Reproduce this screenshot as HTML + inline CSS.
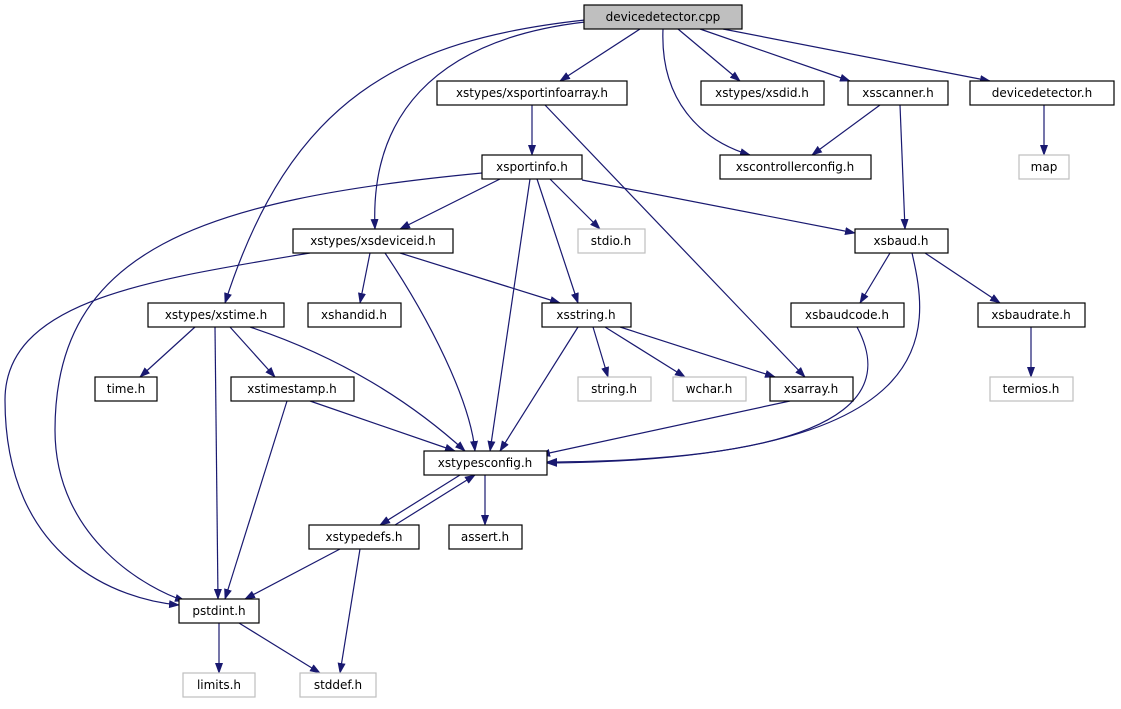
<!DOCTYPE html>
<html><head><meta charset="utf-8"><style>
html,body{margin:0;padding:0;background:#fff;}
svg{display:block;}
text{font-family:"DejaVu Sans","Liberation Sans",sans-serif;font-size:12px;fill:#000;}
.e{fill:none;stroke:#191970;stroke-width:1.2;marker-end:url(#a);}
.n{fill:#fff;stroke:#000;stroke-width:1.2;}
.g{fill:#fff;stroke:#bfbfbf;stroke-width:1.2;}
</style></head><body>
<svg width="1121" height="709" viewBox="0 0 1121 709" xmlns="http://www.w3.org/2000/svg">
<defs><marker id="a" markerWidth="11" markerHeight="8" refX="10" refY="4" orient="auto" markerUnits="userSpaceOnUse"><polygon points="0,0 11,4 0,8" fill="#191970"/></marker></defs>
<g>
<path class="e" d="M640,29 L560,81"/>
<path class="e" d="M678,29 L740,81"/>
<path class="e" d="M700,29 L850,81"/>
<path class="e" d="M723,29 L990,81"/>
<path class="e" d="M663,29 C660,100 700,140 750,155"/>
<path class="e" d="M585,22 C430,40 370,120 375,229"/>
<path class="e" d="M585,20 C400,40 290,100 225,303"/>
<path class="e" d="M532,105 L532,155"/>
<path class="e" d="M545,105 L805,377"/>
<path class="e" d="M880,105 L812,155"/>
<path class="e" d="M900,105 L905,229"/>
<path class="e" d="M1044,105 L1044,155"/>
<path class="e" d="M500,179 L400,229"/>
<path class="e" d="M550,179 L600,229"/>
<path class="e" d="M537,179 L578,303"/>
<path class="e" d="M530,179 L490,451"/>
<path class="e" d="M582,180 L855,233"/>
<path class="e" d="M482,173 C200,200 55,250 55,430 C55,540 150,590 185,601"/>
<path class="e" d="M370,253 L360,303"/>
<path class="e" d="M400,253 L560,303"/>
<path class="e" d="M385,253 C430,320 470,400 475,451"/>
<path class="e" d="M310,253 C150,280 5,300 5,400 C5,560 120,600 179,605"/>
<path class="e" d="M890,253 L860,303"/>
<path class="e" d="M925,253 L1000,303"/>
<path class="e" d="M912,253 C930,330 950,460 547,463"/>
<path class="e" d="M195,327 L140,377"/>
<path class="e" d="M230,327 L275,377"/>
<path class="e" d="M215,327 L218,599"/>
<path class="e" d="M250,327 C350,360 420,410 465,451"/>
<path class="e" d="M593,327 L608,377"/>
<path class="e" d="M605,327 L685,377"/>
<path class="e" d="M620,327 L775,377"/>
<path class="e" d="M578,327 L500,451"/>
<path class="e" d="M857,327 C880,370 900,460 547,462"/>
<path class="e" d="M790,401 L540,455"/>
<path class="e" d="M310,401 L455,451"/>
<path class="e" d="M287,401 L225,599"/>
<path class="e" d="M485,475 L485,525"/>
<path class="e" d="M460,475 L380,525"/>
<path class="e" d="M395,525 L475,475"/>
<path class="e" d="M340,549 L245,599"/>
<path class="e" d="M360,549 L340,673"/>
<path class="e" d="M219,623 L219,673"/>
<path class="e" d="M239,623 L320,673"/>
<path class="e" d="M1031,327 L1031,377"/>
</g>
<g>
<rect x="584" y="5" width="158" height="24" fill="#bfbfbf" stroke="#000" stroke-width="1.2"/><text x="663" y="21" text-anchor="middle">devicedetector.cpp</text>
<rect class="n" x="437" y="81" width="190" height="24"/><text x="532" y="97" text-anchor="middle">xstypes/xsportinfoarray.h</text>
<rect class="n" x="701" y="81" width="123" height="24"/><text x="762" y="97" text-anchor="middle">xstypes/xsdid.h</text>
<rect class="n" x="848" y="81" width="100" height="24"/><text x="898" y="97" text-anchor="middle">xsscanner.h</text>
<rect class="n" x="970" y="81" width="144" height="24"/><text x="1042" y="97" text-anchor="middle">devicedetector.h</text>
<rect class="n" x="482" y="155" width="100" height="24"/><text x="532" y="171" text-anchor="middle">xsportinfo.h</text>
<rect class="n" x="720" y="155" width="151" height="24"/><text x="795" y="171" text-anchor="middle">xscontrollerconfig.h</text>
<rect class="g" x="1019" y="155" width="50" height="24"/><text x="1044" y="171" text-anchor="middle">map</text>
<rect class="n" x="293" y="229" width="160" height="24"/><text x="373" y="245" text-anchor="middle">xstypes/xsdeviceid.h</text>
<rect class="g" x="578" y="229" width="67" height="24"/><text x="611" y="245" text-anchor="middle">stdio.h</text>
<rect class="n" x="855" y="229" width="93" height="24"/><text x="901" y="245" text-anchor="middle">xsbaud.h</text>
<rect class="n" x="148" y="303" width="136" height="24"/><text x="216" y="319" text-anchor="middle">xstypes/xstime.h</text>
<rect class="n" x="308" y="303" width="93" height="24"/><text x="354" y="319" text-anchor="middle">xshandid.h</text>
<rect class="n" x="542" y="303" width="89" height="24"/><text x="586" y="319" text-anchor="middle">xsstring.h</text>
<rect class="n" x="791" y="303" width="113" height="24"/><text x="847" y="319" text-anchor="middle">xsbaudcode.h</text>
<rect class="n" x="978" y="303" width="107" height="24"/><text x="1031" y="319" text-anchor="middle">xsbaudrate.h</text>
<rect class="n" x="95" y="377" width="62" height="24"/><text x="126" y="393" text-anchor="middle">time.h</text>
<rect class="n" x="231" y="377" width="123" height="24"/><text x="292" y="393" text-anchor="middle">xstimestamp.h</text>
<rect class="g" x="578" y="377" width="73" height="24"/><text x="614" y="393" text-anchor="middle">string.h</text>
<rect class="g" x="673" y="377" width="73" height="24"/><text x="709" y="393" text-anchor="middle">wchar.h</text>
<rect class="n" x="770" y="377" width="83" height="24"/><text x="811" y="393" text-anchor="middle">xsarray.h</text>
<rect class="g" x="990" y="377" width="83" height="24"/><text x="1031" y="393" text-anchor="middle">termios.h</text>
<rect class="n" x="424" y="451" width="123" height="24"/><text x="485" y="467" text-anchor="middle">xstypesconfig.h</text>
<rect class="n" x="309" y="525" width="110" height="24"/><text x="364" y="541" text-anchor="middle">xstypedefs.h</text>
<rect class="n" x="449" y="525" width="73" height="24"/><text x="485" y="541" text-anchor="middle">assert.h</text>
<rect class="n" x="179" y="599" width="80" height="24"/><text x="219" y="615" text-anchor="middle">pstdint.h</text>
<rect class="g" x="183" y="673" width="72" height="24"/><text x="219" y="689" text-anchor="middle">limits.h</text>
<rect class="g" x="300" y="673" width="76" height="24"/><text x="338" y="689" text-anchor="middle">stddef.h</text>
</g>
</svg>
</body></html>
